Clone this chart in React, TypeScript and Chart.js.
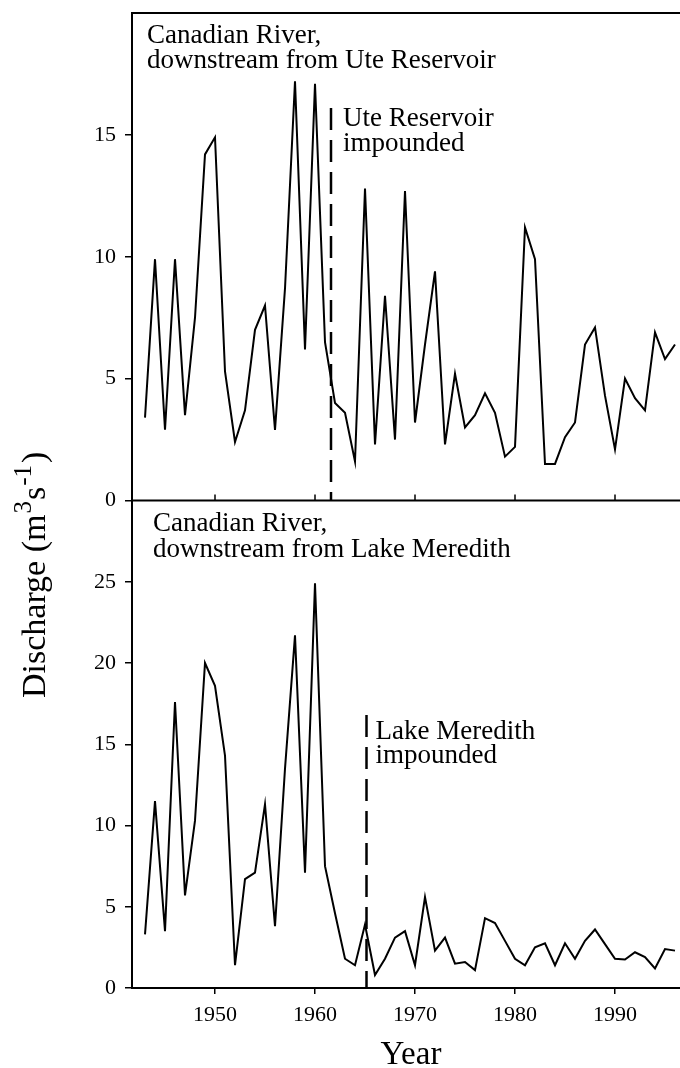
import React, { useEffect, useRef } from 'react';
import { Chart, registerables } from 'chart.js';

Chart.register(...registerables);

// ---------- data ----------
const years = [
  1943, 1944, 1945, 1946, 1947, 1948, 1949, 1950, 1951, 1952,
  1953, 1954, 1955, 1956, 1957, 1958, 1959, 1960, 1961, 1962,
  1963, 1964, 1965, 1966, 1967, 1968, 1969, 1970, 1971, 1972,
  1973, 1974, 1975, 1976, 1977, 1978, 1979, 1980, 1981, 1982,
  1983, 1984, 1985, 1986, 1987, 1988, 1989, 1990, 1991, 1992,
  1993, 1994, 1995, 1996,
];

// Canadian River downstream from Ute Reservoir (m3/s)
const uteDischarge = [
  3.4, 9.9, 2.9, 9.9, 3.5, 7.5, 14.2, 14.9, 5.3, 2.4,
  3.7, 7.0, 8.0, 2.9, 8.7, 17.2, 6.2, 17.1, 6.5, 4.0,
  3.6, 1.6, 12.8, 2.3, 8.4, 2.5, 12.7, 3.2, 6.4, 9.4,
  2.3, 5.2, 3.0, 3.5, 4.4, 3.6, 1.8, 2.2, 11.2, 9.9,
  1.5, 1.5, 2.6, 3.2, 6.4, 7.1, 4.3, 2.1, 5.0, 4.2,
  3.7, 6.9, 5.8, 6.4,
];

// Canadian River downstream from Lake Meredith (m3/s)
const meredithDischarge = [
  3.3, 11.5, 3.5, 17.6, 5.7, 10.3, 20.0, 18.6, 14.3, 1.4,
  6.7, 7.1, 11.3, 3.8, 13.5, 21.7, 7.1, 24.9, 7.5, 4.6,
  1.8, 1.4, 3.9, 0.8, 1.8, 3.1, 3.5, 1.4, 5.6, 2.3,
  3.1, 1.5, 1.6, 1.1, 4.3, 4.0, 2.9, 1.8, 1.4, 2.5,
  2.75, 1.4, 2.75, 1.8, 2.9, 3.6, 2.7, 1.8, 1.75, 2.2,
  1.9, 1.2, 2.4, 2.3,
];

// impoundment markers: [year, top value of dashed line]
const uteImpoundment = [1961.6, 16.1];
const meredithImpoundment = [1965.15, 16.8];

const xRange = [1941.7, 1996.5];
const xTickStep = 10;
const topRange = [0, 20];
const bottomRange = [0, 30];
const yTickStep = 5;

const topTitle = ['Canadian River,', 'downstream from Ute Reservoir'];
const bottomTitle = ['Canadian River,', 'downstream from Lake Meredith'];
const uteNote = ['Ute Reservoir', 'impounded'];
const meredithNote = ['Lake Meredith', 'impounded'];
const xTitle = 'Year';

const SERIF = '"Liberation Serif", "Times New Roman", serif';

const framePlugin = {
  id: 'frameAndText',
  afterDraw(chart: any) {
    const ctx = chart.ctx as CanvasRenderingContext2D;
    const x = chart.scales.x;
    const yT = chart.scales.yTop;
    const yB = chart.scales.yBot;
    ctx.save();
    ctx.strokeStyle = '#000';
    ctx.lineWidth = 2;
    // top border
    ctx.beginPath();
    ctx.moveTo(x.left - 1, yT.top);
    ctx.lineTo(x.right, yT.top);
    ctx.stroke();
    // divider between panels
    ctx.beginPath();
    ctx.moveTo(x.left - 1, yT.bottom);
    ctx.lineTo(x.right, yT.bottom);
    ctx.stroke();
    // inward ticks at bottom of top panel
    ctx.lineWidth = 1.5;
    x.ticks.forEach((t: any) => {
      const px = x.getPixelForValue(t.value);
      ctx.beginPath();
      ctx.moveTo(px, yT.bottom);
      ctx.lineTo(px, yT.bottom - 6);
      ctx.stroke();
    });

    ctx.fillStyle = '#000';
    ctx.textAlign = 'left';
    ctx.textBaseline = 'alphabetic';
    ctx.font = `27px ${SERIF}`;
    // panel titles
    ctx.fillText(topTitle[0], x.left + 15, yT.top + 30);
    ctx.fillText(topTitle[1], x.left + 15, yT.top + 55);
    ctx.fillText(bottomTitle[0], x.left + 21, yB.top + 30);
    ctx.fillText(bottomTitle[1], x.left + 21, yB.top + 56);
    // impoundment notes
    const ux = x.getPixelForValue(uteImpoundment[0]) + 12;
    const uy = yT.getPixelForValue(uteImpoundment[1]);
    ctx.fillText(uteNote[0], ux, uy + 18);
    ctx.fillText(uteNote[1], ux, uy + 43);
    const mx = x.getPixelForValue(meredithImpoundment[0]) + 9;
    const my = yB.getPixelForValue(meredithImpoundment[1]);
    ctx.fillText(meredithNote[0], mx, my + 24);
    ctx.fillText(meredithNote[1], mx, my + 48);

    // x title
    ctx.font = `33px ${SERIF}`;
    ctx.textAlign = 'center';
    ctx.fillText(xTitle, (x.left + x.right) / 2 + 5, 1064);

    // y title with superscripts (rotated)
    ctx.translate(45, 698);
    ctx.rotate(-Math.PI / 2);
    ctx.textAlign = 'left';
    const parts = [
      { t: 'Discharge (m', s: 34, r: 0, g: 1 },
      { t: '3', s: 25, r: 14, g: 1 },
      { t: 's', s: 34, r: 0, g: 1 },
      { t: '-1', s: 25, r: 14, g: 2 },
      { t: ')', s: 34, r: 0, g: 0 },
    ];
    let cx = 0;
    for (const p of parts) {
      ctx.font = `${p.s}px ${SERIF}`;
      ctx.fillText(p.t, cx, -p.r);
      cx += ctx.measureText(p.t).width + p.g;
    }
    ctx.restore();
  },
};

export default function App() {
  const ref = useRef<HTMLCanvasElement | null>(null);

  useEffect(() => {
    if (!ref.current) return;
    const tickFont = { family: SERIF, size: 22 };
    const chart = new Chart(ref.current, {
      type: 'line',
      data: {
        datasets: [
          {
            data: years.map((yr, i) => ({ x: yr, y: uteDischarge[i] })),
            yAxisID: 'yTop',
            borderColor: '#000',
            borderWidth: 2,
            pointRadius: 0,
            tension: 0,
          },
          {
            data: years.map((yr, i) => ({ x: yr, y: meredithDischarge[i] })),
            yAxisID: 'yBot',
            borderColor: '#000',
            borderWidth: 2,
            pointRadius: 0,
            tension: 0,
          },
          {
            data: [
              { x: uteImpoundment[0], y: uteImpoundment[1] },
              { x: uteImpoundment[0], y: 0 },
            ],
            yAxisID: 'yTop',
            borderColor: '#000',
            borderWidth: 2.5,
            borderDash: [22, 10],
            pointRadius: 0,
          },
          {
            data: [
              { x: meredithImpoundment[0], y: meredithImpoundment[1] },
              { x: meredithImpoundment[0], y: 0 },
            ],
            yAxisID: 'yBot',
            borderColor: '#000',
            borderWidth: 2.5,
            borderDash: [22, 10],
            pointRadius: 0,
          },
        ],
      },
      options: {
        animation: false,
        responsive: false,
        devicePixelRatio: 1,
        layout: { padding: { top: 13, left: 0, right: 0, bottom: 0 } },
        plugins: { legend: { display: false }, tooltip: { enabled: false } },
        scales: {
          x: {
            type: 'linear',
            min: xRange[0],
            max: xRange[1],
            ticks: {
              stepSize: xTickStep,
              includeBounds: false,
              font: tickFont,
              color: '#000',
              padding: 8,
              maxRotation: 0,
              callback: (v: any) => String(v),
            },
            grid: { drawOnChartArea: false, drawTicks: true, tickLength: 6, color: '#000', lineWidth: 1.5 },
            border: { color: '#000', width: 2 },
            afterFit: (s: any) => {
              s.height = 80;
              s.paddingLeft = 0;
              s.paddingRight = 0;
            },
          },
          yBot: {
            type: 'linear',
            position: 'left',
            stack: 'panels',
            stackWeight: 1,
            min: bottomRange[0],
            max: bottomRange[1],
            ticks: {
              stepSize: yTickStep,
              font: tickFont,
              color: '#000',
              padding: 9,
              callback: (v: any) => (v === bottomRange[1] ? '' : String(v)),
            },
            grid: {
              drawOnChartArea: false,
              drawTicks: true,
              tickLength: 7,
              lineWidth: 1.5,
              color: (c: any) => (c.tick && c.tick.value === bottomRange[1] ? 'rgba(0,0,0,0)' : '#000'),
            },
            border: { color: '#000', width: 2 },
            afterFit: (s: any) => {
              s.width = 132;
              s.paddingTop = 0;
              s.paddingBottom = 0;
            },
          },
          yTop: {
            type: 'linear',
            position: 'left',
            stack: 'panels',
            stackWeight: 1,
            min: topRange[0],
            max: topRange[1],
            ticks: {
              stepSize: yTickStep,
              font: tickFont,
              color: '#000',
              padding: 9,
              callback: (v: any) => (v === topRange[1] ? '' : String(v)),
            },
            grid: {
              drawOnChartArea: false,
              drawTicks: true,
              tickLength: 7,
              lineWidth: 1.5,
              color: (c: any) => (c.tick && c.tick.value === topRange[1] ? 'rgba(0,0,0,0)' : '#000'),
            },
            border: { color: '#000', width: 2 },
            afterFit: (s: any) => {
              s.width = 132;
              s.paddingTop = 0;
              s.paddingBottom = 0;
            },
          },
        },
      } as any,
      plugins: [framePlugin],
    });
    return () => chart.destroy();
  }, []);

  return (
    <div style={{ position: 'absolute', left: 0, top: 0, width: 680, height: 1068, background: '#fff' }}>
      <canvas ref={ref} width={680} height={1068} style={{ display: 'block' }} />
    </div>
  );
}
